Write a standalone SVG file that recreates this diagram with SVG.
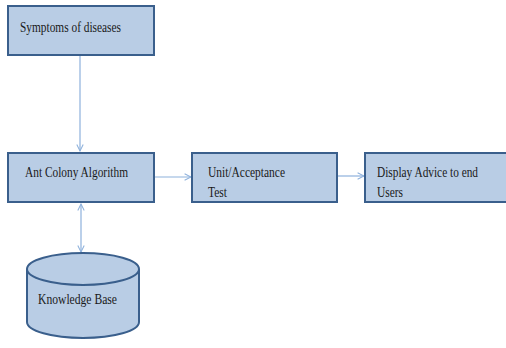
<svg xmlns="http://www.w3.org/2000/svg" width="506" height="348" viewBox="0 0 506 348">
<style>
.box{fill:#b9cde5;stroke:#3a5f8c;stroke-width:2}
.t{font-family:"Liberation Serif",serif;font-size:15px;fill:#1a1a1a}
.c{fill:none;stroke:#8eb1dc;stroke-width:1.2}
</style>
<defs>
<marker id="ah" viewBox="0 0 10 10" refX="9" refY="5" markerWidth="8" markerHeight="8" orient="auto-start-reverse" markerUnits="userSpaceOnUse">
<polyline points="1,1 9,5 1,9" fill="none" stroke="#8eb1dc" stroke-width="1.3"/>
</marker>
</defs>
<rect width="506" height="348" fill="#fff"/>
<g id="connectors">
<line class="c" x1="80" y1="56" x2="80" y2="151" marker-end="url(#ah)"/>
<line class="c" x1="155" y1="177" x2="191" y2="177" marker-end="url(#ah)"/>
<line class="c" x1="338" y1="176" x2="364" y2="176" marker-end="url(#ah)"/>
<line class="c" x1="81" y1="204" x2="81" y2="252" marker-start="url(#ah)" marker-end="url(#ah)"/>
</g>
<g id="symptoms">
<rect class="box" x="8" y="6" width="146" height="49"/>
<text class="t" x="20" y="32" textLength="101" lengthAdjust="spacingAndGlyphs">Symptoms of diseases</text>
</g>
<g id="ant">
<rect class="box" x="8" y="153" width="146" height="49"/>
<text class="t" x="25" y="177" textLength="103" lengthAdjust="spacingAndGlyphs">Ant Colony Algorithm</text>
</g>
<g id="test">
<rect class="box" x="192" y="153" width="145" height="49"/>
<text class="t" x="208" y="177" textLength="77" lengthAdjust="spacingAndGlyphs">Unit/Acceptance</text>
<text class="t" x="208" y="197" textLength="19" lengthAdjust="spacingAndGlyphs">Test</text>
</g>
<g id="display">
<rect class="box" x="365" y="153" width="145" height="49"/>
<text class="t" x="377" y="177" textLength="101" lengthAdjust="spacingAndGlyphs">Display Advice to end</text>
<text class="t" x="377" y="197" textLength="26" lengthAdjust="spacingAndGlyphs">Users</text>
</g>
<g id="kb">
<path class="box" d="M27,269 L27,322 A56,16 0 0 0 139,322 L139,269"/>
<ellipse class="box" cx="83" cy="269" rx="56" ry="16"/>
<text class="t" x="38" y="304" textLength="79" lengthAdjust="spacingAndGlyphs">Knowledge Base</text>
</g>
</svg>
